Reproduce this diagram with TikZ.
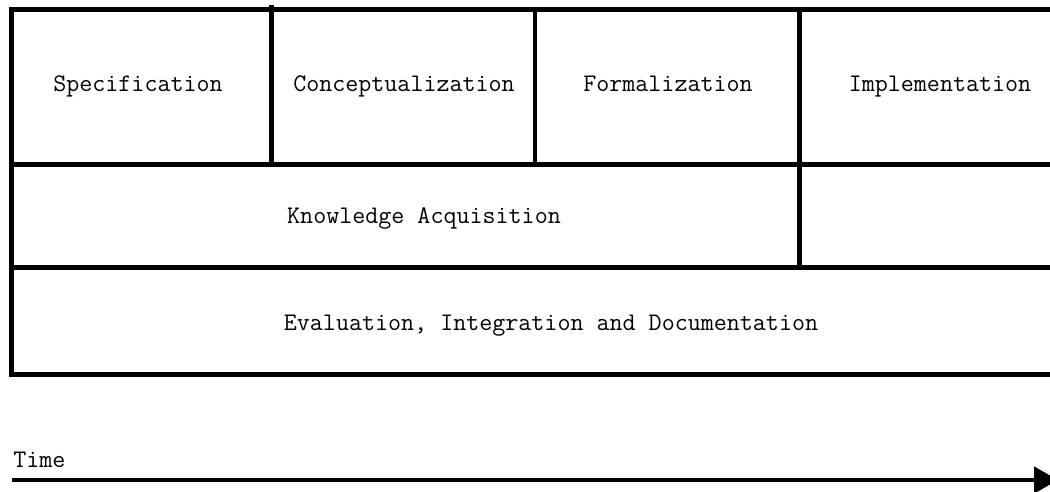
\documentclass[tikz,border=0pt]{standalone}
\usepackage{fontspec}
\usetikzlibrary{arrows.meta}

\begin{document}
\begin{tikzpicture}[x=0.02cm,y=-0.02cm]
    \tikzset{
        box/.style={line width=2.8pt},
        phase/.style={font=\ttfamily\fontsize{14.4}{17}\selectfont, inner sep=0pt, anchor=base}
    }
    \useasboundingbox (0,0) rectangle (1050,491);
    \clip (0,0) rectangle (1050,491);
    %\draw[help lines,step=50] (0,0) grid (1050,491);
    \draw[box] (11.5,9.5) rectangle (1090,164.5);
    \draw[box] (11.5,164.5) rectangle (1090,267.5);
    \draw[box] (11.5,267.5) rectangle (1090,374.5);
    \draw[box] (271.5,5) -- (271.5,164.5);
    \draw[box] (535,9.5) -- (535,164.5);
    \draw[box] (799.5,9.5) -- (799.5,267.5);

    \node[phase] (spec) at (138,91.5) {Specification};
    \node[phase] (concept) at (404,91.5) {Conceptualization};
    \node[phase] (formal) at (668,91.5) {Formalization};
    \node[phase] (implement) at (940,91.5) {Implementation};
    \node[phase] (acquire) at (424,223) {Knowledge Acquisition};
    \node[phase] (evaluate) at (551,330) {Evaluation, Integration and Documentation};

    \node[phase, anchor=base west] (time) at (13,467) {Time};
    \coordinate (tstart) at (12,480);
    \coordinate (tend) at (1058,480);
    \draw[box, -{Triangle[length=0.48cm, width=0.52cm]}] (tstart) -- (tend);
\end{tikzpicture}
\end{document}
